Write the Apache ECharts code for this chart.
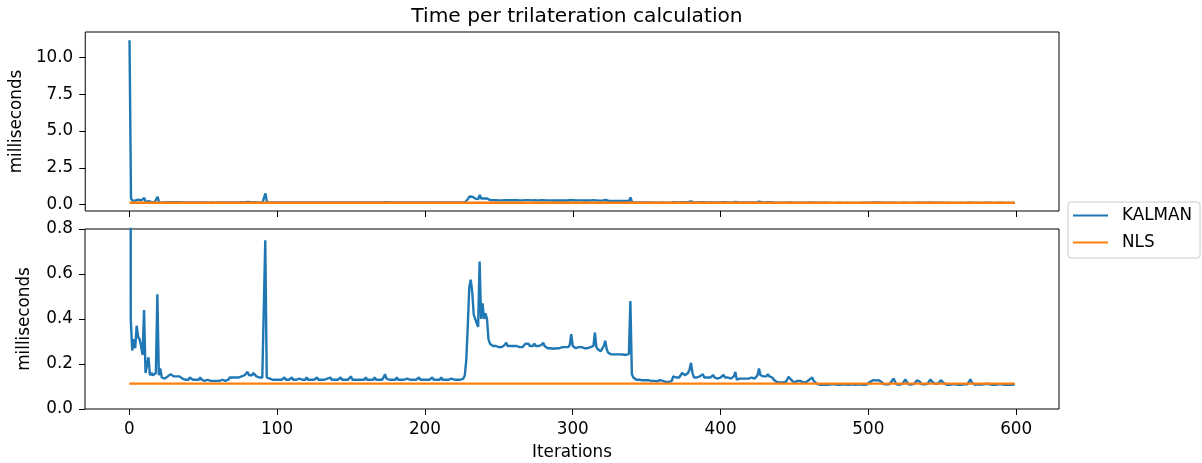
<!DOCTYPE html>
<html>
<head>
<meta charset="utf-8">
<script src="https://cdn.jsdelivr.net/npm/echarts@6/dist/echarts.min.js"></script>
<style>
  html, body { margin: 0; padding: 0; background: #fff; }
  #chart { width: 1202px; height: 463px; }
</style>
</head>
<body>
<div id="chart"></div>
<script>
// Time (ms) spent per trilateration, one value per iteration (0..599)
const kalman = [
  11.2, 0.40, 0.26, 0.31, 0.27, 0.37, 0.32, 0.31, 0.28, 0.24, 0.44, 0.16, 0.16, 0.23, 0.15, 0.16, 0.15, 0.15, 0.16, 0.51,
  0.15, 0.18, 0.14, 0.14, 0.135, 0.14, 0.145, 0.15, 0.155, 0.15, 0.145, 0.15, 0.145, 0.14, 0.145, 0.14, 0.135, 0.135, 0.13, 0.135,
  0.13, 0.14, 0.135, 0.13, 0.13, 0.13, 0.13, 0.13, 0.14, 0.13, 0.13, 0.125, 0.13, 0.13, 0.125, 0.125, 0.13, 0.125, 0.125, 0.125,
  0.13, 0.125, 0.13, 0.13, 0.13, 0.125, 0.13, 0.13, 0.14, 0.135, 0.14, 0.135, 0.14, 0.14, 0.14, 0.14, 0.145, 0.14, 0.15, 0.155,
  0.165, 0.15, 0.145, 0.15, 0.16, 0.165, 0.145, 0.14, 0.14, 0.14, 0.14, 0.14, 0.75, 0.14, 0.14, 0.135, 0.13, 0.13, 0.135, 0.13,
  0.13, 0.13, 0.135, 0.13, 0.13, 0.14, 0.13, 0.13, 0.13, 0.135, 0.14, 0.13, 0.13, 0.13, 0.13, 0.135, 0.13, 0.13, 0.13, 0.13,
  0.14, 0.13, 0.13, 0.13, 0.13, 0.13, 0.135, 0.14, 0.13, 0.13, 0.13, 0.13, 0.13, 0.13, 0.135, 0.13, 0.14, 0.13, 0.13, 0.13,
  0.13, 0.13, 0.135, 0.14, 0.13, 0.13, 0.13, 0.13, 0.13, 0.135, 0.145, 0.13, 0.13, 0.13, 0.13, 0.13, 0.13, 0.13, 0.135, 0.13,
  0.14, 0.13, 0.13, 0.13, 0.13, 0.13, 0.14, 0.13, 0.13, 0.13, 0.13, 0.13, 0.14, 0.155, 0.135, 0.13, 0.13, 0.13, 0.13, 0.13,
  0.13, 0.14, 0.13, 0.13, 0.13, 0.13, 0.13, 0.13, 0.135, 0.14, 0.13, 0.13, 0.13, 0.13, 0.13, 0.135, 0.14, 0.13, 0.13, 0.13,
  0.13, 0.13, 0.13, 0.13, 0.135, 0.14, 0.13, 0.13, 0.13, 0.13, 0.13, 0.14, 0.13, 0.13, 0.13, 0.13, 0.13, 0.13, 0.135, 0.14,
  0.13, 0.13, 0.13, 0.13, 0.13, 0.13, 0.135, 0.15, 0.22, 0.37, 0.54, 0.575, 0.52, 0.42, 0.40, 0.395, 0.365, 0.655, 0.40, 0.47,
  0.40, 0.425, 0.40, 0.31, 0.29, 0.285, 0.28, 0.275, 0.28, 0.285, 0.275, 0.28, 0.275, 0.28, 0.285, 0.295, 0.28, 0.275, 0.28, 0.275,
  0.28, 0.275, 0.28, 0.28, 0.275, 0.28, 0.275, 0.28, 0.29, 0.285, 0.29, 0.28, 0.275, 0.28, 0.29, 0.28, 0.275, 0.28, 0.28, 0.285,
  0.295, 0.28, 0.275, 0.27, 0.275, 0.27, 0.265, 0.268, 0.265, 0.27, 0.268, 0.27, 0.275, 0.275, 0.27, 0.275, 0.27, 0.275, 0.285, 0.333,
  0.28, 0.275, 0.27, 0.275, 0.275, 0.27, 0.275, 0.275, 0.27, 0.275, 0.27, 0.275, 0.275, 0.27, 0.28, 0.34, 0.275, 0.265, 0.26, 0.257,
  0.26, 0.28, 0.303, 0.265, 0.25, 0.245, 0.243, 0.242, 0.243, 0.24, 0.243, 0.242, 0.243, 0.24, 0.242, 0.243, 0.24, 0.242, 0.245, 0.48,
  0.155, 0.14, 0.135, 0.13, 0.13, 0.13, 0.13, 0.128, 0.128, 0.128, 0.13, 0.128, 0.128, 0.125, 0.128, 0.125, 0.123, 0.123, 0.125, 0.128,
  0.132, 0.125, 0.122, 0.12, 0.12, 0.12, 0.12, 0.125, 0.145, 0.14, 0.14, 0.145, 0.14, 0.15, 0.16, 0.165, 0.15, 0.155, 0.16, 0.175,
  0.205, 0.16, 0.14, 0.14, 0.14, 0.14, 0.145, 0.15, 0.155, 0.14, 0.14, 0.14, 0.14, 0.14, 0.145, 0.15, 0.14, 0.14, 0.135, 0.14,
  0.14, 0.145, 0.152, 0.14, 0.14, 0.14, 0.14, 0.135, 0.14, 0.145, 0.165, 0.13, 0.135, 0.135, 0.135, 0.135, 0.14, 0.135, 0.135, 0.135,
  0.135, 0.14, 0.135, 0.135, 0.14, 0.15, 0.18, 0.15, 0.145, 0.145, 0.14, 0.145, 0.155, 0.145, 0.145, 0.14, 0.13, 0.125, 0.12, 0.118,
  0.118, 0.117, 0.118, 0.118, 0.12, 0.13, 0.143, 0.135, 0.128, 0.12, 0.118, 0.12, 0.125, 0.13, 0.125, 0.118, 0.118, 0.118, 0.12, 0.125,
  0.13, 0.135, 0.14, 0.125, 0.117, 0.113, 0.11, 0.108, 0.11, 0.109, 0.111, 0.108, 0.11, 0.107, 0.109, 0.11, 0.108, 0.11, 0.109, 0.107,
  0.11, 0.108, 0.109, 0.11, 0.108, 0.109, 0.11, 0.108, 0.109, 0.11, 0.108, 0.107, 0.109, 0.11, 0.108, 0.109, 0.11, 0.108, 0.11, 0.109,
  0.112, 0.12, 0.125, 0.128, 0.128, 0.127, 0.128, 0.128, 0.127, 0.12, 0.111, 0.109, 0.11, 0.108, 0.11, 0.115, 0.125, 0.135, 0.122, 0.11,
  0.109, 0.108, 0.11, 0.112, 0.12, 0.132, 0.12, 0.11, 0.108, 0.109, 0.11, 0.112, 0.12, 0.128, 0.132, 0.12, 0.11, 0.108, 0.11, 0.109,
  0.112, 0.122, 0.132, 0.122, 0.12, 0.112, 0.11, 0.112, 0.12, 0.128, 0.125, 0.115, 0.109, 0.108, 0.11, 0.107, 0.109, 0.11, 0.108, 0.11,
  0.109, 0.107, 0.11, 0.108, 0.109, 0.11, 0.108, 0.11, 0.12, 0.132, 0.118, 0.11, 0.108, 0.109, 0.11, 0.107, 0.109, 0.108, 0.11, 0.109,
  0.112, 0.108, 0.11, 0.109, 0.107, 0.11, 0.108, 0.109, 0.11, 0.108, 0.11, 0.109, 0.107, 0.11, 0.108, 0.112, 0.109, 0.11, 0.108, 0.11
];

const nls = [
  0.113, 0.113, 0.113, 0.113, 0.113, 0.113, 0.113, 0.113, 0.113, 0.113, 0.113, 0.113, 0.113, 0.113, 0.113, 0.113, 0.113, 0.113, 0.113, 0.113,
  0.113, 0.113, 0.113, 0.113, 0.113, 0.113, 0.113, 0.113, 0.113, 0.113, 0.113, 0.113, 0.113, 0.113, 0.113, 0.113, 0.113, 0.113, 0.113, 0.113,
  0.113, 0.113, 0.113, 0.113, 0.113, 0.113, 0.113, 0.113, 0.113, 0.113, 0.113, 0.113, 0.113, 0.113, 0.113, 0.113, 0.113, 0.113, 0.113, 0.113,
  0.113, 0.113, 0.113, 0.113, 0.113, 0.113, 0.113, 0.113, 0.113, 0.113, 0.113, 0.113, 0.113, 0.113, 0.113, 0.113, 0.113, 0.113, 0.113, 0.113,
  0.113, 0.113, 0.113, 0.113, 0.113, 0.113, 0.113, 0.113, 0.113, 0.113, 0.113, 0.113, 0.113, 0.113, 0.113, 0.113, 0.113, 0.113, 0.113, 0.113,
  0.113, 0.113, 0.113, 0.113, 0.113, 0.113, 0.113, 0.113, 0.113, 0.113, 0.113, 0.113, 0.113, 0.113, 0.113, 0.113, 0.113, 0.113, 0.113, 0.113,
  0.113, 0.113, 0.113, 0.113, 0.113, 0.113, 0.113, 0.113, 0.113, 0.113, 0.113, 0.113, 0.113, 0.113, 0.113, 0.113, 0.113, 0.113, 0.113, 0.113,
  0.113, 0.113, 0.113, 0.113, 0.113, 0.113, 0.113, 0.113, 0.113, 0.113, 0.113, 0.113, 0.113, 0.113, 0.113, 0.113, 0.113, 0.113, 0.113, 0.113,
  0.113, 0.113, 0.113, 0.113, 0.113, 0.113, 0.113, 0.113, 0.113, 0.113, 0.113, 0.113, 0.113, 0.113, 0.113, 0.113, 0.113, 0.113, 0.113, 0.113,
  0.113, 0.113, 0.113, 0.113, 0.113, 0.113, 0.113, 0.113, 0.113, 0.113, 0.113, 0.113, 0.113, 0.113, 0.113, 0.113, 0.113, 0.113, 0.113, 0.113,
  0.113, 0.113, 0.113, 0.113, 0.113, 0.113, 0.113, 0.113, 0.113, 0.113, 0.113, 0.113, 0.113, 0.113, 0.113, 0.113, 0.113, 0.113, 0.113, 0.113,
  0.113, 0.113, 0.113, 0.113, 0.113, 0.113, 0.113, 0.113, 0.113, 0.113, 0.113, 0.113, 0.113, 0.113, 0.113, 0.113, 0.113, 0.113, 0.113, 0.113,
  0.113, 0.113, 0.113, 0.113, 0.113, 0.113, 0.113, 0.113, 0.113, 0.113, 0.113, 0.113, 0.113, 0.113, 0.113, 0.113, 0.113, 0.113, 0.113, 0.113,
  0.113, 0.113, 0.113, 0.113, 0.113, 0.113, 0.113, 0.113, 0.113, 0.113, 0.113, 0.113, 0.113, 0.113, 0.113, 0.113, 0.113, 0.113, 0.113, 0.113,
  0.113, 0.113, 0.113, 0.113, 0.113, 0.113, 0.113, 0.113, 0.113, 0.113, 0.113, 0.113, 0.113, 0.113, 0.113, 0.113, 0.113, 0.113, 0.113, 0.113,
  0.113, 0.113, 0.113, 0.113, 0.113, 0.113, 0.113, 0.113, 0.113, 0.113, 0.113, 0.113, 0.113, 0.113, 0.113, 0.113, 0.113, 0.113, 0.113, 0.113,
  0.113, 0.113, 0.113, 0.113, 0.113, 0.113, 0.113, 0.113, 0.113, 0.113, 0.113, 0.113, 0.113, 0.113, 0.113, 0.113, 0.113, 0.113, 0.113, 0.113,
  0.113, 0.113, 0.113, 0.113, 0.113, 0.113, 0.113, 0.113, 0.113, 0.113, 0.113, 0.113, 0.113, 0.113, 0.113, 0.113, 0.113, 0.113, 0.113, 0.113,
  0.113, 0.113, 0.113, 0.113, 0.113, 0.113, 0.113, 0.113, 0.113, 0.113, 0.113, 0.113, 0.113, 0.113, 0.113, 0.113, 0.113, 0.113, 0.113, 0.113,
  0.113, 0.113, 0.113, 0.113, 0.113, 0.113, 0.113, 0.113, 0.113, 0.113, 0.113, 0.113, 0.113, 0.113, 0.113, 0.113, 0.113, 0.113, 0.113, 0.113,
  0.113, 0.113, 0.113, 0.113, 0.113, 0.113, 0.113, 0.113, 0.113, 0.113, 0.113, 0.113, 0.113, 0.113, 0.113, 0.113, 0.113, 0.113, 0.113, 0.113,
  0.113, 0.113, 0.113, 0.113, 0.113, 0.113, 0.113, 0.113, 0.113, 0.113, 0.113, 0.113, 0.113, 0.113, 0.113, 0.113, 0.113, 0.113, 0.113, 0.113,
  0.113, 0.113, 0.113, 0.113, 0.113, 0.113, 0.113, 0.113, 0.113, 0.113, 0.113, 0.113, 0.113, 0.113, 0.113, 0.113, 0.113, 0.113, 0.113, 0.113,
  0.113, 0.113, 0.113, 0.113, 0.113, 0.113, 0.113, 0.113, 0.113, 0.113, 0.113, 0.113, 0.113, 0.113, 0.113, 0.113, 0.113, 0.113, 0.113, 0.113,
  0.113, 0.113, 0.113, 0.113, 0.113, 0.113, 0.113, 0.113, 0.113, 0.113, 0.113, 0.113, 0.113, 0.113, 0.113, 0.113, 0.113, 0.113, 0.113, 0.113,
  0.113, 0.113, 0.113, 0.113, 0.113, 0.113, 0.113, 0.113, 0.113, 0.113, 0.113, 0.113, 0.113, 0.113, 0.113, 0.113, 0.113, 0.113, 0.113, 0.113,
  0.113, 0.113, 0.113, 0.113, 0.113, 0.113, 0.113, 0.113, 0.113, 0.113, 0.113, 0.113, 0.113, 0.113, 0.113, 0.113, 0.113, 0.113, 0.113, 0.113,
  0.113, 0.113, 0.113, 0.113, 0.113, 0.113, 0.113, 0.113, 0.113, 0.113, 0.113, 0.113, 0.113, 0.113, 0.113, 0.113, 0.113, 0.113, 0.113, 0.113,
  0.113, 0.113, 0.113, 0.113, 0.113, 0.113, 0.113, 0.113, 0.113, 0.113, 0.113, 0.113, 0.113, 0.113, 0.113, 0.113, 0.113, 0.113, 0.113, 0.113,
  0.113, 0.113, 0.113, 0.113, 0.113, 0.113, 0.113, 0.113, 0.113, 0.113, 0.113, 0.113, 0.113, 0.113, 0.113, 0.113, 0.113, 0.113, 0.113, 0.113
];

const seriesNames = ['KALMAN', 'NLS'];
const xTicks = [0, 100, 200, 300, 400, 500, 600];
const yTicksTop = [0, 2.5, 5, 7.5, 10];
const yTicksBottom = [0, 0.2, 0.4, 0.6, 0.8];

const FONT = 'DejaVu Sans';
const FS = 16.8;
const BLUE = '#1f77b4';
const ORANGE = '#ff7f0e';

const toPairs = arr => arr.map((v, i) => [i, v]);

const plotLeft = 85, plotWidth = 974;
const grids = [
  { left: plotLeft, top: 32, width: plotWidth, height: 179 },
  { left: plotLeft, top: 229, width: plotWidth, height: 180 }
];

function xAxis(gridIndex, withLabels) {
  return {
    type: 'value', gridIndex,
    min: -29.95, max: 628.95,
    axisLine: { show: false, onZero: false },
    axisTick: { show: true, length: 6, inside: false, customValues: xTicks,
                lineStyle: { color: '#000', width: 1 } },
    axisLabel: { show: withLabels, customValues: xTicks, margin: 12,
                 fontFamily: FONT, fontSize: FS, color: '#000' },
    splitLine: { show: false },
    name: withLabels ? 'Iterations' : '',
    nameLocation: 'middle', nameGap: 35,
    nameTextStyle: { fontFamily: FONT, fontSize: FS, color: '#000' }
  };
}

function yAxis(gridIndex, min, max, ticks) {
  return {
    type: 'value', gridIndex, min, max,
    axisLine: { show: false, onZero: false },
    axisTick: { show: true, length: 6, customValues: ticks,
                lineStyle: { color: '#000', width: 1 } },
    axisLabel: { customValues: ticks, margin: 12,
                 formatter: v => v.toFixed(1),
                 fontFamily: FONT, fontSize: FS, color: '#000' },
    splitLine: { show: false },
    name: 'milliseconds', nameLocation: 'middle', nameRotate: 90, nameGap: 52,
    nameTextStyle: { fontFamily: FONT, fontSize: FS, color: '#000' }
  };
}

function lineSeries(name, data, color, idx) {
  return {
    name, type: 'line', data: toPairs(data),
    xAxisIndex: idx, yAxisIndex: idx,
    showSymbol: false, symbol: 'none',
    lineStyle: { color, width: 2.4 }, itemStyle: { color },
    clip: true, animation: false
  };
}

const chart = echarts.init(document.getElementById('chart'), null, { renderer: 'canvas' });
chart.setOption({
  animation: false,
  backgroundColor: '#fff',
  title: {
    text: 'Time per trilateration calculation',
    left: 572, top: 2, textAlign: 'center',
    textStyle: { fontFamily: FONT, fontSize: 20.2, fontWeight: 'normal', color: '#000' }
  },
  grid: grids.map(g => Object.assign({ show: true, borderColor: '#000', borderWidth: 1,
                                        backgroundColor: 'transparent', containLabel: false }, g)),
  xAxis: [xAxis(0, false), xAxis(1, true)],
  yAxis: [yAxis(0, -0.448, 11.755, yTicksTop), yAxis(1, 0, 0.8, yTicksBottom)],
  legend: {
    data: seriesNames.map(n => ({ name: n, icon: 'rect' })),
    orient: 'vertical', left: 1068, top: 202,
    itemWidth: 35, itemHeight: 2, itemGap: 10,
    padding: [5, 8, 7, 5],
    borderColor: '#cccccc', borderWidth: 1, borderRadius: 3,
    backgroundColor: 'rgba(255,255,255,0.8)',
    textStyle: { fontFamily: FONT, fontSize: FS, color: '#000', lineHeight: 17, padding: [0, 0, 0, 9] }
  },
  series: [
    lineSeries(seriesNames[0], kalman, BLUE, 0),
    lineSeries(seriesNames[1], nls, ORANGE, 0),
    lineSeries(seriesNames[0], kalman, BLUE, 1),
    lineSeries(seriesNames[1], nls, ORANGE, 1)
  ]
});
</script>
</body>
</html>
